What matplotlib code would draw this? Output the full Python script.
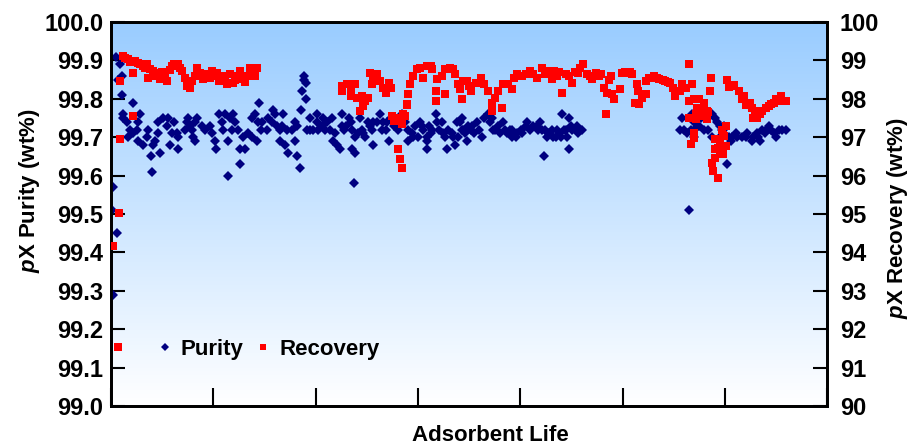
import numpy as np
import matplotlib
matplotlib.use('Agg')
import matplotlib.pyplot as plt
from matplotlib.colors import LinearSegmentedColormap

plt.rcParams['font.family'] = 'Liberation Sans'
plt.rcParams['font.weight'] = 'bold'
plt.rcParams['mathtext.fontset'] = 'custom'
plt.rcParams['mathtext.it'] = 'Liberation Sans:bold:italic'
plt.rcParams['mathtext.rm'] = 'Liberation Sans:bold'

# purity (wt%) vs adsorbent life (days)
pur_day = [2, 1, 6, 2, 5, 9, 7, 11, 11,
           21, 12, 12, 16, 28, 26, 19, 21, 25, 17, 26, 31, 36, 35, 43, 41, 46, 46, 48, 39, 40,
           51, 56, 55, 62, 60, 64, 65, 58, 65, 72, 74, 75, 77, 79, 82, 84, 80, 82, 89, 92, 97,
           99, 102, 103, 106, 108, 109, 111, 116, 118, 119, 121, 124, 114, 126, 126, 114, 129,
           131, 134, 138, 138,
           145, 141, 144, 143, 148, 153, 158, 160, 157, 152, 147, 162, 168, 167, 165, 172, 180,
           182, 177, 165, 170, 173, 180, 182, 186, 185, 189, 189, 191, 187, 191, 194, 192, 194,
           201, 197, 201, 202, 207, 206, 211, 209, 214, 216, 219, 217, 221, 224, 226, 226, 228,
           230, 233, 235, 236, 238, 236, 238, 237, 241, 245, 246, 248, 243, 251, 253, 256, 255,
           256, 260, 263, 265, 266, 269, 272, 270, 274, 277, 284, 280,
           287, 290, 290, 294, 295, 297, 302, 304, 300, 305, 309, 309, 309, 311, 314, 313, 318,
           319, 323, 321, 324, 326, 328, 329, 333, 334, 336, 338, 341, 343, 339, 343, 344, 346,
           348, 349, 352, 353, 355, 358, 360, 363, 365, 368, 370, 372, 373, 375, 378, 380, 383,
           385, 387, 390, 392, 392, 396, 397, 401, 402, 406, 407, 409, 412, 416, 419, 417, 421,
           424, 426, 427, 431, 432, 423,
           441, 436, 438, 440, 443, 445, 448, 450, 451, 455, 456, 460, 446, 448, 435,
           558, 556, 560, 563, 567, 568, 570, 565, 570, 573, 577, 570, 575, 580, 583, 587, 590,
           592, 595, 597, 599, 598, 587, 595, 602, 604, 607, 606, 611, 612, 617, 621, 622, 626,
           627, 631, 634, 632, 636, 639, 640, 643, 645, 648, 650, 653, 656, 660]
purity = [99.57, 99.51, 99.45, 99.29, 99.91, 99.89, 99.85, 99.86, 99.81,
          99.79, 99.76, 99.75, 99.74, 99.76, 99.74, 99.72, 99.71, 99.72, 99.70, 99.69, 99.68,
          99.72, 99.70, 99.69, 99.68, 99.74, 99.71, 99.66, 99.65, 99.61,
          99.75, 99.75, 99.73, 99.74, 99.71, 99.71, 99.70, 99.68, 99.67, 99.72, 99.74, 99.75,
          99.73, 99.72, 99.74, 99.75, 99.70, 99.69, 99.73, 99.72, 99.73,
          99.71, 99.69, 99.67, 99.76, 99.74, 99.72, 99.76, 99.75, 99.72, 99.76, 99.74, 99.72,
          99.69, 99.67, 99.63, 99.60, 99.70,
          99.67, 99.71, 99.75, 99.70,
          99.79, 99.76, 99.74, 99.69, 99.74, 99.75, 99.77, 99.76, 99.74, 99.72, 99.72, 99.73,
          99.76, 99.73, 99.72, 99.72, 99.74,
          99.73, 99.72, 99.69, 99.68, 99.66, 99.69, 99.65, 99.77, 99.62, 99.86, 99.85, 99.84,
          99.82, 99.80, 99.75, 99.72, 99.72,
          99.76, 99.72, 99.74, 99.72, 99.75, 99.73, 99.74, 99.72, 99.72, 99.75, 99.71, 99.69,
          99.68, 99.67, 99.76, 99.73, 99.72,
          99.73, 99.75, 99.74, 99.72, 99.70, 99.67, 99.66, 99.58, 99.71, 99.72, 99.71, 99.70,
          99.75, 99.74, 99.73, 99.74, 99.72,
          99.68, 99.74, 99.76, 99.72, 99.74, 99.72, 99.69, 99.74, 99.75, 99.73, 99.76, 99.72,
          99.74, 99.72, 99.69, 99.71, 99.70, 99.73, 99.74, 99.73, 99.70, 99.72, 99.70, 99.69,
          99.67, 99.73, 99.72, 99.71, 99.76,
          99.74, 99.74, 99.72, 99.71, 99.70, 99.67, 99.72, 99.71, 99.70, 99.68, 99.74, 99.74,
          99.75, 99.70, 99.72, 99.72, 99.71,
          99.69, 99.73, 99.72, 99.73, 99.71, 99.74, 99.72, 99.70, 99.75, 99.76, 99.74, 99.75,
          99.72, 99.72, 99.73, 99.71, 99.74,
          99.72, 99.71, 99.72, 99.72, 99.70, 99.70, 99.71, 99.72, 99.71, 99.73, 99.74, 99.72,
          99.73, 99.73, 99.74, 99.72, 99.72,
          99.72, 99.70, 99.71, 99.72, 99.70, 99.65,
          99.76, 99.72, 99.71, 99.70, 99.72, 99.72, 99.75, 99.73, 99.72, 99.73, 99.71, 99.72,
          99.70, 99.67, 99.70,
          99.75, 99.72, 99.72, 99.71, 99.72, 99.76, 99.70, 99.51, 99.74, 99.76, 99.75, 99.72,
          99.73, 99.72, 99.72, 99.76, 99.75,
          99.74, 99.73, 99.72, 99.73, 99.72, 99.70, 99.70, 99.63, 99.70, 99.70, 99.69, 99.71,
          99.70, 99.70, 99.70, 99.71, 99.69,
          99.70, 99.71, 99.69, 99.70, 99.72, 99.71, 99.72, 99.73, 99.72, 99.71, 99.70, 99.72,
          99.72, 99.72]

# recovery (wt%) vs adsorbent life (days)
rec_day = [8, 9, 21, 9, 21, 2, 7,
           12, 17, 23, 26, 31, 35, 38, 36, 41, 46, 48, 53, 55, 60, 62, 65, 69, 72, 74, 77, 79,
           82, 84, 87, 90, 94, 99, 102, 104, 106, 109, 113, 116, 119, 123, 126, 128, 133, 136,
           139, 143, 14, 19, 28, 33, 44, 50, 58, 67, 92, 97, 111, 121, 131, 141,
           226, 226, 231, 235, 238, 235, 240, 245, 248, 251, 246, 243, 253, 256, 255, 260, 263,
           266, 269, 272, 274, 275, 277, 282, 284, 280, 282, 284, 285, 289,
           287, 289, 290, 292, 295, 299, 302, 305, 309, 313, 314, 318, 318, 319, 323, 326, 326,
           331, 334, 336, 339, 341, 343, 344, 348, 350, 352, 357, 362, 365, 368, 372, 372, 375,
           378, 382, 383, 388, 392, 394, 397, 402, 406, 409, 412, 416, 421, 424, 427, 431,
           433, 436, 441, 445, 451, 456, 461, 465, 470, 474, 479, 482, 484, 485, 489, 490, 492,
           497, 499, 504, 509, 514, 515, 512, 516, 519, 523, 523, 526, 531, 536, 541, 546, 549,
           551, 556, 558, 438, 448, 453, 458, 468, 477, 487, 502, 507, 529, 534, 539, 544,
           565, 568, 586, 585, 602, 607, 614, 619, 624, 629, 631, 636, 640, 645, 650, 655, 660,
           562, 570, 575, 573, 577, 580, 582, 565, 572, 582, 570, 570, 567, 590, 595, 593, 599,
           601, 598, 590, 587, 588, 593, 595, 604, 609, 617, 621, 626, 627, 634, 643, 648, 651,
           656, 565, 578, 583, 572, 577, 597, 601, 598, 590]
recovery = [95.03, 96.95, 97.55, 98.46, 98.67, 94.17, 91.54,
            99.11, 99.04, 98.98, 98.93, 98.85, 98.90, 98.78, 98.54, 98.72, 98.67, 98.52, 98.65,
            98.46, 98.85, 98.90, 98.90, 98.72, 98.54, 98.33, 98.28, 98.46,
            98.59, 98.80, 98.67, 98.52, 98.65, 98.72, 98.59, 98.67, 98.46, 98.59, 98.39, 98.65,
            98.41, 98.59, 98.72, 98.52, 98.59, 98.80,
            98.65, 98.80, 99.06, 98.95, 98.90, 98.80, 98.60, 98.70, 98.75, 98.80, 98.60, 98.55,
            98.50, 98.50, 98.45, 98.60,
            98.33, 98.20, 98.39, 98.26, 98.39, 98.07, 98.02, 98.07, 97.94, 98.02, 97.81, 97.68,
            98.67, 98.54, 98.39, 98.65, 98.46,
            98.28, 98.15, 98.41, 98.28, 97.55, 97.42, 97.50, 97.34, 96.69, 96.43, 96.20, 97.60,
            97.84,
            97.55, 97.86, 98.12, 98.39, 98.59, 98.78, 98.80, 98.54, 98.85, 98.85, 98.78, 98.20,
            97.94, 98.52, 98.59, 98.78, 98.12,
            98.80, 98.78, 98.65, 98.39, 98.26, 98.00, 98.46, 98.46, 98.33, 98.20, 98.41, 98.54,
            98.39, 98.20, 97.89, 97.68, 98.02,
            98.20, 97.76, 98.39, 98.39, 98.26, 98.54, 98.65, 98.59, 98.65, 98.72, 98.65, 98.54,
            98.80, 98.65, 98.72, 98.52,
            98.72, 98.59, 98.15, 98.65, 98.41, 98.67, 98.90, 98.65, 98.52, 98.67, 98.65, 98.28,
            97.60, 98.15, 98.59, 98.12, 98.00,
            98.26, 98.67, 98.67, 98.65, 98.39, 98.20, 97.89, 97.86, 98.02, 98.12, 98.46, 98.54,
            98.59, 98.52, 98.46, 98.41, 98.28,
            98.07, 98.20, 98.39, 98.70, 98.60, 98.70, 98.80, 98.60, 98.60, 98.50, 98.70, 98.70,
            98.55, 98.55, 98.50, 98.45,
            98.90, 98.39, 98.55, 98.20, 98.50, 98.33, 98.20, 98.07, 97.89, 97.68, 97.50, 97.68,
            97.76, 97.86, 98.00, 98.07, 97.94,
            98.28, 98.00, 98.00, 97.76, 97.68, 97.89, 97.68, 97.50, 97.47, 97.47, 97.11, 96.98,
            96.82, 96.95, 96.85, 96.72, 97.03,
            96.77, 96.56, 96.46, 96.33, 96.12, 95.94, 96.65, 98.30, 98.35, 98.00, 97.85, 97.75,
            97.50, 97.60, 97.80, 97.90, 98.00,
            97.95, 97.95, 97.70, 97.65, 97.60, 97.55, 97.20, 97.30, 97.05, 96.70]

fig = plt.figure(figsize=(9.13, 4.45), dpi=100)
ax = fig.add_axes([0.1216, 0.0876, 0.7845, 0.8630])
ax2 = ax.twinx()

# light blue -> white gradient behind the data
cmap = LinearSegmentedColormap.from_list('bg', ['#FFFFFF', '#99CCFF'])
grad = np.linspace(0, 1, 256).reshape(-1, 1)
ax.imshow(grad, cmap=cmap, aspect='auto', extent=[0, 1, 0, 1], origin='lower',
          transform=ax.transAxes, zorder=0)

p1, = ax.plot(pur_day, purity, 'D', color='#000080', ms=5, mew=0, zorder=3,
              label='Purity')
p2, = ax2.plot(rec_day, recovery, 's', color='#FF0000', ms=6, mew=0, zorder=3,
               label='Recovery')

ax.set_xlim(0, 700)
ax.set_ylim(99.0, 100.0)
ax2.set_ylim(90, 100)
ax.set_xticks(np.arange(0, 701, 100))
ax.set_xticklabels([])
ax.set_yticks(np.arange(99.0, 100.01, 0.1))
ax.set_yticklabels(['%.1f' % v for v in np.arange(99.0, 100.01, 0.1)])
ax2.set_yticks(np.arange(90, 101, 1))

ax.tick_params(axis='y', direction='in', length=10, width=1.5, labelsize=17, pad=5.5)
ax.tick_params(axis='x', direction='in', length=13, width=1.5)
ax2.tick_params(axis='y', direction='in', length=10, width=1.5, labelsize=17, pad=9)
for a in (ax, ax2):
    for s in a.spines.values():
        s.set_linewidth(2)

ax.set_ylabel(r'$\it{p}$X Purity (wt%)', fontsize=16, fontweight='bold')
ax2.set_ylabel(r'$\it{p}$X Recovery (wt%)', fontsize=16, fontweight='bold')
ax.set_xlabel('Adsorbent Life', fontsize=16, fontweight='bold')
ax.yaxis.set_label_coords(-0.096, 0.56)
ax2.yaxis.set_label_coords(1.081, 0.49)
ax.xaxis.set_label_coords(0.529, -0.05)

ax.legend(handles=[p1, p2], loc='center left', bbox_to_anchor=(0.063, 0.148), ncol=2,
          frameon=False, fontsize=16, markerscale=0.8, handlelength=0.8,
          handletextpad=0.3, columnspacing=0.5, borderpad=0, borderaxespad=0)

fig.savefig('out.png', dpi=100)
